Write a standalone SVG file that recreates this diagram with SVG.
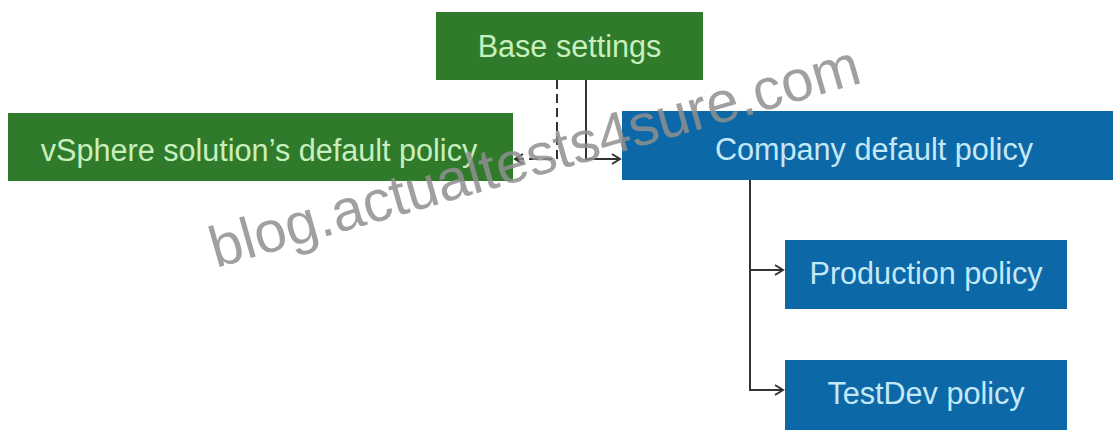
<svg xmlns="http://www.w3.org/2000/svg" width="1115" height="430" viewBox="0 0 1115 430">
<style>
.g{fill:#2f7b2b}
.b{fill:#0c68a6}
.tg{fill:#c9efbf;font-family:"Liberation Sans",Arial,sans-serif;font-size:30.6px;text-anchor:middle}
.tb{fill:#c4e8f7;font-family:"Liberation Sans",Arial,sans-serif;font-size:30.6px;text-anchor:middle}
.ln{fill:none;stroke:#333;stroke-width:2}
.wm{fill:#8f8f8f;fill-opacity:0.85;font-family:"Liberation Sans",Arial,sans-serif;font-size:58px}
</style>
<defs>
<marker id="ah" markerWidth="12" markerHeight="12" refX="10" refY="6" orient="auto" markerUnits="userSpaceOnUse">
<path d="M2,1 L10,6 L2,11" fill="none" stroke="#333" stroke-width="2"/>
</marker>
</defs>
<rect width="1115" height="430" fill="#fff"/>
<g id="base"><rect class="g" x="436" y="12" width="267" height="68"/><text class="tg" x="569.5" y="57">Base settings</text></g>
<g id="vsphere"><rect class="g" x="8" y="113" width="505" height="68"/><text class="tg" x="259" y="161">vSphere solution’s default policy</text></g>
<g id="company"><rect class="b" x="622" y="111" width="491" height="69"/><text class="tb" x="874" y="160">Company default policy</text></g>
<g id="production"><rect class="b" x="785" y="240" width="282" height="69"/><text class="tb" x="926" y="284">Production policy</text></g>
<g id="testdev"><rect class="b" x="785" y="360" width="282" height="70"/><text class="tb" x="926" y="404">TestDev policy</text></g>
<g id="connectors">
<path class="ln" d="M557,80 V159 H515" stroke-dasharray="9,5" marker-end="url(#ah)"/>
<path class="ln" d="M586,80 V159 H620" marker-end="url(#ah)"/>
<path class="ln" d="M750,180 V270 H783" marker-end="url(#ah)"/>
<path class="ln" d="M750,270 V390 H783" marker-end="url(#ah)"/>
</g>
<text class="wm" transform="translate(216,268) rotate(-16)">blog.actualtests4sure.com</text>
</svg>
